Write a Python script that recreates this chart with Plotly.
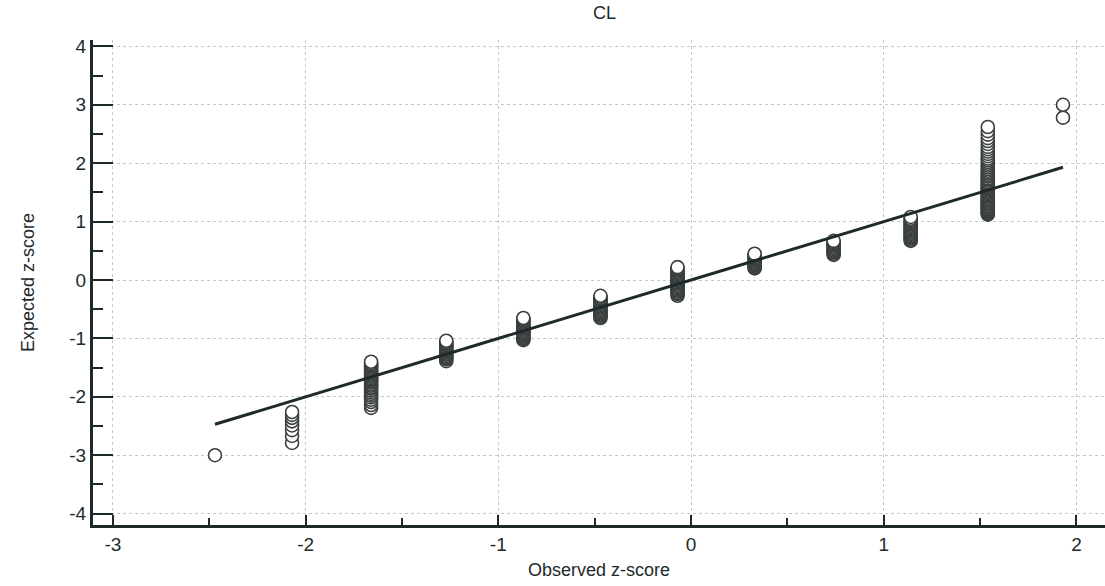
import plotly.graph_objects as go

# Observed z-score (discrete values) and expected z-scores for each stack
obs_values = [-2.47, -2.07, -1.66, -1.27, -0.87, -0.47, -0.07, 0.33, 0.74, 1.14, 1.54, 1.93]

exp_m247 = [-3.00]
exp_m207 = [-2.26, -2.31, -2.36, -2.42, -2.49, -2.57, -2.67, -2.79]
exp_m166 = [-1.40, -1.42, -1.44, -1.46, -1.48, -1.50, -1.52, -1.54, -1.56, -1.58,
            -1.60, -1.62, -1.64, -1.66, -1.68, -1.70, -1.72, -1.74, -1.76, -1.79,
            -1.81, -1.84, -1.86, -1.89, -1.92, -1.95, -1.98, -2.01, -2.05, -2.09,
            -2.14, -2.19]
exp_m127 = [-1.04, -1.06, -1.08, -1.10, -1.12, -1.14, -1.16, -1.18, -1.20, -1.22,
            -1.24, -1.26, -1.28, -1.30, -1.32, -1.34, -1.36, -1.39]
exp_m087 = [-0.65, -0.67, -0.69, -0.71, -0.73, -0.75, -0.77, -0.79, -0.81, -0.83,
            -0.85, -0.87, -0.89, -0.91, -0.93, -0.95, -0.97, -0.99, -1.01, -1.03]
exp_m047 = [-0.27, -0.29, -0.31, -0.33, -0.35, -0.37, -0.39, -0.41, -0.43, -0.45,
            -0.47, -0.49, -0.51, -0.53, -0.55, -0.57, -0.59, -0.61, -0.63, -0.65]
exp_m007 = [0.22, 0.20, 0.18, 0.16, 0.14, 0.12, 0.10, 0.08, 0.06, 0.04, 0.02, 0.00,
            -0.02, -0.04, -0.06, -0.08, -0.10, -0.12, -0.14, -0.16, -0.18, -0.20,
            -0.22, -0.24, -0.27]
exp_p033 = [0.45, 0.43, 0.41, 0.39, 0.37, 0.35, 0.33, 0.31, 0.29, 0.27, 0.25, 0.23,
            0.21, 0.20]
exp_p074 = [0.67, 0.65, 0.63, 0.61, 0.59, 0.57, 0.55, 0.53, 0.51, 0.49, 0.47, 0.45,
            0.43]
exp_p114 = [1.08, 1.05, 1.03, 1.01, 0.99, 0.97, 0.95, 0.93, 0.91, 0.89, 0.87, 0.85,
            0.83, 0.81, 0.79, 0.77, 0.75, 0.73, 0.71, 0.69, 0.67]
exp_p154 = [2.62, 2.55, 2.49, 2.43, 2.38, 2.33, 2.28, 2.24, 2.20, 2.16, 2.12, 2.08,
            2.05, 2.02, 1.99, 1.96, 1.93, 1.90, 1.87, 1.84, 1.82, 1.79, 1.77, 1.74,
            1.72, 1.70, 1.67, 1.65, 1.63, 1.61, 1.59, 1.57, 1.55, 1.53, 1.51, 1.49,
            1.47, 1.45, 1.43, 1.41, 1.39, 1.38, 1.36, 1.34, 1.32, 1.31, 1.29, 1.27,
            1.26, 1.24, 1.23, 1.21, 1.19, 1.18, 1.16, 1.15, 1.13, 1.12]
exp_p193 = [3.00, 2.78]

stacks = [exp_m247, exp_m207, exp_m166, exp_m127, exp_m087, exp_m047, exp_m007,
          exp_p033, exp_p074, exp_p114, exp_p154, exp_p193]

line_x = [-2.47, 1.93]
line_y = [-2.47, 1.93]

x_ticks = [-3, -2, -1, 0, 1, 2]
y_ticks = [-4, -3, -2, -1, 0, 1, 2, 3, 4]

# Build point lists, sorted so higher points are drawn on top
pts = []
for xv, ys in zip(obs_values, stacks):
    for yv in ys:
        pts.append((yv, xv))
pts.sort()
px = [p[1] for p in pts]
py = [p[0] for p in pts]

font_main = "Liberation Sans, Arial, sans-serif"
dark = "#1e2a2a"

fig = go.Figure()
fig.add_trace(go.Scatter(
    x=px, y=py, mode="markers",
    marker=dict(symbol="circle", size=13, color="white",
                line=dict(color="#3a3f3f", width=1.6)),
    showlegend=False, hoverinfo="x+y"))
fig.add_trace(go.Scatter(
    x=line_x, y=line_y, mode="lines",
    line=dict(color=dark, width=3), showlegend=False))

fig.update_layout(
    width=1105, height=586,
    margin=dict(l=93, r=0, t=40, b=61),
    paper_bgcolor="white", plot_bgcolor="white",
    title=dict(text="CL", x=0.547, xanchor="center", y=0.978, yanchor="middle",
               font=dict(family=font_main, size=18, color=dark)),
    font=dict(family=font_main, color=dark),
)
fig.update_xaxes(
    range=[-3.103, 2.148], tickvals=x_ticks, ticktext=[str(v) for v in x_ticks],
    showline=True, linewidth=3, linecolor=dark,
    ticks="inside", ticklen=10, tickwidth=2, tickcolor=dark,
    minor=dict(dtick=0.5, tick0=0, ticks="inside", ticklen=7, tickwidth=1.5,
               tickcolor=dark, showgrid=False),
    showgrid=True, gridcolor="#c4c8c8", gridwidth=1, griddash="dot",
    zeroline=False, tickfont=dict(size=19, color=dark),
    title=dict(text="Observed z-score", font=dict(size=18, color=dark), standoff=10),
)
fig.update_yaxes(
    range=[-4.195, 4.11], tickvals=y_ticks, ticktext=[str(v) for v in y_ticks],
    showline=True, linewidth=3, linecolor=dark,
    ticks="inside", ticklen=20, tickwidth=2, tickcolor=dark,
    minor=dict(dtick=0.5, tick0=0, ticks="inside", ticklen=10, tickwidth=1.5,
               tickcolor=dark, showgrid=False),
    showgrid=True, gridcolor="#c4c8c8", gridwidth=1, griddash="dot",
    zeroline=False, tickfont=dict(size=19, color=dark),
    title=dict(text="Expected z-score",
               font=dict(family="Liberation Sans Narrow, Arial Narrow, Liberation Sans",
                         size=18, color=dark), standoff=30),
)

fig.write_html("out.html")
